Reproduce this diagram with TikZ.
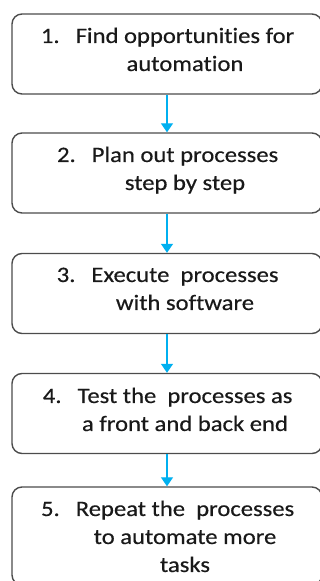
\documentclass[tikz,border=0pt]{standalone}
\usepackage{fontspec}
\setmainfont{Carlito}[Ligatures=NoCommon,FakeStretch=1.12,FakeBold=0.4]
\usetikzlibrary{arrows.meta}
\definecolor{flowblue}{RGB}{0,176,240}

\begin{document}
\begin{tikzpicture}
  [x=1pt,y=-1pt,
   stepbox/.style={draw=black!70,line width=1.4pt,rounded corners=10pt,
                   minimum width=310pt,minimum height=80pt},
   steptext/.style={anchor=north,align=center,inner sep=0pt,text=black!90,
                    font=\fontsize{22}{28}\selectfont},
   flow/.style={draw=flowblue,line width=1.3pt,
                -{Triangle[width=12pt,length=9pt]}}]
    \useasboundingbox (0,0) rectangle (320,581);

    \node (s1) [stepbox] at (167,54)    {};
    \node (s2) [stepbox] at (167,173)   {};
    \node (s3) [stepbox] at (167,293.5) {};
    \node (s4) [stepbox] at (167,413.5) {};
    \node (s5) [stepbox,minimum height=98pt] at (167,536) {};

    \node (t1) [steptext] at (185,27.5)  {\llap{1.\hspace{16pt}}Find opportunities for\\automation};
    \node (t2) [steptext] at (185,146.5) {\llap{2.\hspace{16pt}}Plan out processes\\step by step};
    \node (t3) [steptext] at (185,267.5) {\llap{3.\hspace{16pt}}Execute~ processes\\with software};
    \node (t4) [steptext] at (185,387.5) {\llap{4.\hspace{16pt}}Test the~ processes as\\a front and back end};
    \node (t5) [steptext] at (185,500.5) {\llap{5.\hspace{16pt}}Repeat the~ processes\\to automate more\\tasks};

    \foreach \from/\to in {s1/s2,s2/s3,s3/s4,s4/s5}
      \draw[flow] (\from) -- (\to);
  \end{tikzpicture}
\end{document}
